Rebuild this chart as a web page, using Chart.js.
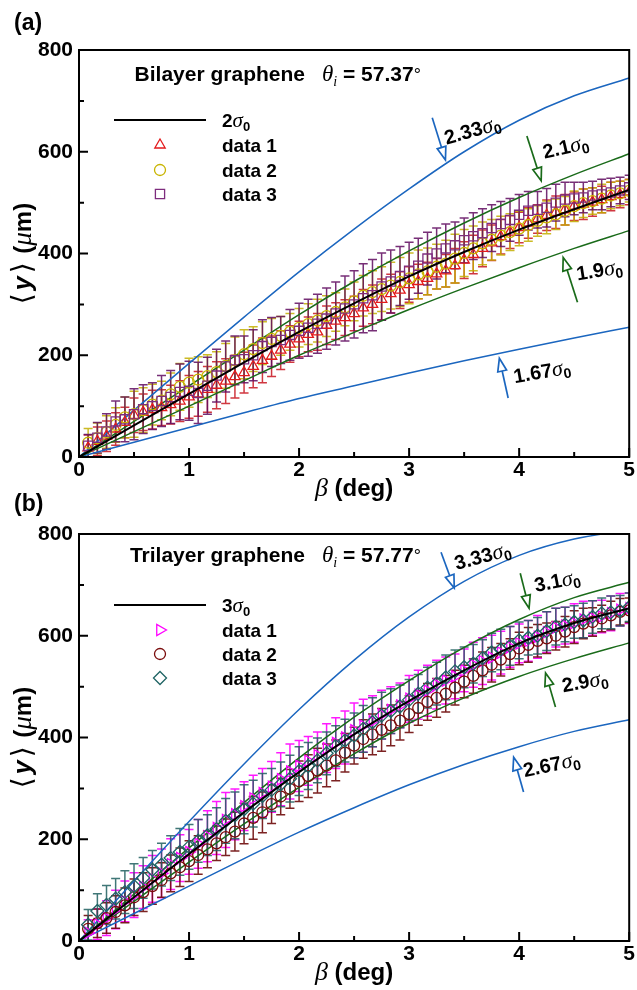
<!DOCTYPE html>
<html>
<head>
<meta charset="utf-8">
<script src="https://cdn.jsdelivr.net/npm/chart.js@4.4.1/dist/chart.umd.min.js"></script>
<style>
  html, body { margin: 0; padding: 0; background: #fff; }
  #wrap { position: relative; width: 637px; height: 990px; overflow: hidden; }
  canvas { position: absolute; left: 0; }
  #ca { top: 0; }
  #cb { top: 490px; }
</style>
</head>
<body>
<div id="wrap">
  <canvas id="ca" width="637" height="510"></canvas>
  <canvas id="cb" width="637" height="500"></canvas>
</div>
<script>
'use strict';

/* ---------- data ---------- */

// measured beam angles (deg), shared by every data series
const beta = [0.083, 0.167, 0.25, 0.333, 0.417, 0.5, 0.583, 0.667, 0.75, 0.833, 0.917, 1.0,
  1.083, 1.167, 1.25, 1.333, 1.417, 1.5, 1.583, 1.667, 1.75, 1.833, 1.917, 2.0,
  2.083, 2.167, 2.25, 2.333, 2.417, 2.5, 2.583, 2.667, 2.75, 2.833, 2.917, 3.0,
  3.083, 3.167, 3.25, 3.333, 3.417, 3.5, 3.583, 3.667, 3.75, 3.833, 3.917, 4.0,
  4.083, 4.167, 4.25, 4.333, 4.417, 4.5, 4.583, 4.667, 4.75, 4.833, 4.917, 5.0];

// theory curves sampled every 0.5 deg
const curveBeta = [0, 0.5, 1, 1.5, 2, 2.5, 3, 3.5, 4, 4.5, 5];

// (a) bilayer graphene
const a_2s0   = [0, 62, 124, 186, 246, 302, 355, 403, 447, 487, 525];
const a_233s0 = [0, 92, 184, 275, 364, 448, 527, 600, 662, 710, 745];
const a_21s0  = [0, 70, 140, 210, 280, 345, 405, 460, 510, 555, 596];
const a_19s0  = [0, 50, 100, 150, 200, 245, 290, 332, 372, 410, 445];
const a_167s0 = [0, 29, 58, 87, 115, 140, 165, 189, 212, 234, 255];

const a_data1 = [18, 31, 41, 55, 68, 82, 88, 93, 97, 103, 110, 118,
  124, 133, 141, 149, 158, 166, 178, 190, 198, 210, 222, 232,
  241, 246, 259, 267, 274, 282, 293, 300, 310, 321, 328, 339,
  345, 351, 360, 366, 376, 387, 398, 410, 421, 433, 442, 451,
  460, 468, 475, 481, 486, 493, 497, 501, 506, 512, 516, 521];
const a_err1 = [25, 28, 30, 32, 30, 34, 36, 38, 35, 38, 40, 42,
  44, 45, 46, 44, 42, 40, 42, 44, 40, 38, 36, 35,
  34, 36, 38, 36, 35, 34, 36, 38, 40, 38, 36, 35,
  34, 32, 30, 32, 34, 36, 38, 36, 35, 34, 32, 30,
  30, 28, 30, 32, 30, 28, 30, 28, 26, 28, 26, 25];
const a_data2 = [28, 37, 49, 63, 78, 84, 92, 103, 111, 123, 138, 146,
  152, 159, 167, 179, 190, 202, 212, 224, 232, 238, 246, 254,
  261, 268, 277, 285, 294, 306, 317, 324, 330, 337, 344, 351,
  359, 365, 374, 380, 390, 401, 410, 420, 427, 435, 442, 449,
  456, 464, 471, 477, 484, 493, 499, 503, 508, 514, 518, 523];
const a_err2 = [28, 30, 32, 34, 40, 45, 44, 40, 38, 42, 46, 48,
  45, 42, 40, 44, 46, 48, 44, 42, 40, 38, 36, 38,
  40, 42, 40, 38, 36, 38, 40, 42, 44, 46, 48, 50,
  48, 46, 44, 46, 48, 46, 44, 42, 40, 38, 36, 34,
  32, 30, 32, 30, 28, 30, 28, 26, 28, 26, 24, 22];
const a_data3 = [22, 38, 50, 70, 74, 84, 94, 100, 110, 118, 128, 130,
  126, 140, 160, 178, 190, 192, 200, 218, 226, 230, 240, 248,
  254, 262, 272, 282, 292, 300, 312, 318, 335, 345, 356, 366,
  376, 390, 400, 410, 416, 426, 434, 440, 450, 458, 466, 476,
  484, 486, 490, 500, 506, 508, 510, 514, 516, 520, 524, 530];
const a_err3 = [22, 30, 35, 40, 44, 50, 48, 46, 50, 52, 55, 58,
  60, 56, 52, 50, 48, 46, 50, 52, 48, 46, 50, 54,
  56, 58, 60, 62, 64, 66, 68, 70, 66, 62, 58, 56,
  54, 52, 50, 48, 46, 44, 46, 48, 46, 44, 42, 40,
  38, 36, 38, 36, 34, 32, 30, 28, 30, 28, 26, 24];

// (b) trilayer graphene
const b_3s0   = [0, 86, 171, 253, 332, 406, 472, 532, 585, 625, 654];
const b_333s0 = [0, 118, 235, 348, 455, 552, 637, 707, 758, 790, 808];
const b_31s0  = [0, 92, 183, 272, 360, 440, 512, 577, 632, 675, 705];
const b_29s0  = [0, 78, 155, 230, 302, 368, 428, 478, 520, 555, 586];
const b_267s0 = [0, 54, 108, 162, 214, 262, 307, 347, 382, 412, 435];

const b_data1 = [16, 33, 45, 62, 78, 90, 106, 122, 133, 151, 163, 175,
  191, 206, 222, 238, 249, 265, 280, 291, 303, 318, 333, 344,
  354, 365, 379, 389, 400, 414, 423, 432, 445, 454, 463, 476,
  484, 492, 504, 512, 520, 532, 543, 550, 557, 567, 578, 585,
  590, 598, 607, 616, 620, 625, 632, 635, 638, 644, 651, 654];
const b_err1 = [26, 30, 34, 38, 40, 44, 42, 46, 48, 50, 46, 44,
  48, 50, 52, 54, 50, 48, 46, 48, 50, 52, 54, 50,
  48, 46, 48, 50, 52, 54, 52, 50, 48, 46, 44, 46,
  48, 50, 48, 46, 44, 42, 44, 46, 44, 42, 40, 38,
  40, 42, 40, 38, 36, 38, 36, 34, 32, 34, 32, 30];
const b_data2 = [24, 35, 45, 57, 70, 86, 96, 108, 120, 133, 145, 157,
  169, 180, 192, 204, 215, 231, 242, 253, 269, 284, 299, 314,
  324, 335, 345, 355, 370, 384, 397, 406, 415, 424, 433, 446,
  458, 470, 478, 486, 498, 510, 521, 532, 543, 553, 564, 575,
  582, 590, 595, 600, 608, 617, 624, 627, 634, 640, 647, 650];
const b_err2 = [26, 28, 30, 32, 34, 36, 38, 36, 34, 36, 38, 40,
  38, 36, 34, 36, 38, 40, 42, 40, 38, 36, 38, 40,
  42, 44, 42, 40, 38, 36, 38, 40, 42, 40, 38, 36,
  34, 36, 38, 36, 34, 32, 34, 36, 34, 32, 30, 32,
  34, 32, 30, 28, 30, 32, 30, 28, 26, 28, 26, 24];
const b_data3 = [32, 59, 71, 83, 96, 108, 124, 140, 150, 163, 175, 185,
  197, 208, 220, 236, 247, 259, 270, 285, 297, 308, 319, 334,
  344, 355, 369, 383, 394, 404, 417, 430, 443, 452, 461, 474,
  486, 498, 506, 518, 530, 538, 545, 556, 567, 573, 580, 591,
  596, 600, 609, 618, 622, 627, 630, 637, 644, 646, 649, 656];
const b_err3 = [30, 34, 38, 40, 42, 44, 40, 38, 42, 44, 46, 44,
  42, 40, 42, 44, 46, 48, 46, 44, 42, 44, 46, 48,
  46, 44, 42, 40, 42, 44, 46, 48, 46, 44, 42, 40,
  38, 40, 42, 44, 42, 40, 38, 36, 38, 40, 38, 36,
  34, 36, 38, 36, 34, 32, 34, 32, 30, 32, 30, 28];

// axis ticks
const xMajor = [0, 1, 2, 3, 4, 5];
const xMinor = [0.5, 1.5, 2.5, 3.5, 4.5];
const yMajor = [0, 200, 400, 600, 800];
const yMinor = [100, 300, 500, 700];

/* ---------- styling ---------- */

const BLUE = '#1b66bf';
const GREEN = '#1a6b1a';
const SANS = '"Liberation Sans", Arial, Helvetica, "DejaVu Sans", sans-serif';
const SERIF = '"Liberation Serif", "Times New Roman", "DejaVu Serif", serif';
const BRACKET = '"DejaVu Sans", sans-serif';

const pts = (xs, ys) => xs.map((x, i) => ({ x, y: ys[i] }));

function curve(label, ys, color, width) {
  return {
    label, data: pts(curveBeta, ys), showLine: true, borderColor: color, borderWidth: width,
    pointRadius: 0, cubicInterpolationMode: 'monotone', fill: false
  };
}

function series(label, ys, errs, st) {
  return {
    label, data: pts(beta, ys), errors: errs, errColor: st.err, showLine: false,
    pointStyle: st.shape, pointRotation: st.rot || 0, pointRadius: st.r,
    pointBorderColor: st.color, pointBackgroundColor: 'rgba(0,0,0,0)', pointBorderWidth: 1.3
  };
}

// mixed-font text: parts = [text, font, dy, gapAfter]
function rich(ctx, parts, x, y, rot, color, align) {
  ctx.save();
  ctx.translate(x, y);
  if (rot) ctx.rotate(rot * Math.PI / 180);
  ctx.fillStyle = color || '#000';
  ctx.textBaseline = 'alphabetic';
  ctx.textAlign = 'left';
  let w = 0;
  for (const [t, f, , g] of parts) { ctx.font = f; w += ctx.measureText(t).width + (g || 0); }
  let cx = align === 'center' ? -w / 2 : align === 'right' ? -w : 0;
  for (const [t, f, dy, g] of parts) {
    ctx.font = f;
    ctx.fillText(t, cx, dy || 0);
    cx += ctx.measureText(t).width + (g || 0);
  }
  ctx.restore();
}

const sigma = (num, size) => [
  [num, `bold ${size}px ${SANS}`],
  ['\u03c3', `italic ${size + 2}px ${SERIF}`],
  ['0', `bold ${Math.round(size * 0.68)}px ${SANS}`, 4]
];

function arrowNote(ctx, xs, ys, n) {
  const x0 = xs.getPixelForValue(n.tail[0]), y0 = ys.getPixelForValue(n.tail[1]);
  const x1 = xs.getPixelForValue(n.tip[0]), y1 = ys.getPixelForValue(n.tip[1]);
  const L = Math.hypot(x1 - x0, y1 - y0), ux = (x1 - x0) / L, uy = (y1 - y0) / L;
  const bx = x1 - ux * 13, by = y1 - uy * 13;
  ctx.strokeStyle = n.color;
  ctx.lineWidth = 1.7;
  ctx.beginPath(); ctx.moveTo(x0, y0); ctx.lineTo(bx, by); ctx.stroke();
  ctx.beginPath();
  ctx.moveTo(x1, y1);
  ctx.lineTo(bx - uy * 4.5, by + ux * 4.5);
  ctx.lineTo(bx + uy * 4.5, by - ux * 4.5);
  ctx.closePath();
  ctx.fillStyle = '#fff'; ctx.fill(); ctx.stroke();
  rich(ctx, sigma(n.text, 20), xs.getPixelForValue(n.at[0]), ys.getPixelForValue(n.at[1]), n.rot);
}

function legendMark(ctx, st, x, y) {
  ctx.save();
  ctx.strokeStyle = st.color;
  ctx.fillStyle = 'rgba(0,0,0,0)';
  ctx.lineWidth = 1.3;
  Chart.helpers.drawPoint(ctx, { pointStyle: st.shape, rotation: st.rot || 0, radius: st.r, borderWidth: 1.3 }, x, y);
  ctx.restore();
}

/* ---------- plugins ---------- */

const errorBars = {
  id: 'errorBars',
  beforeDatasetsDraw(chart) {
    const { ctx, chartArea: a, scales: { x, y } } = chart;
    ctx.save();
    ctx.beginPath(); ctx.rect(a.left, a.top, a.right - a.left, a.bottom - a.top); ctx.clip();
    chart.data.datasets.slice().reverse().forEach(ds => {
      if (!ds.errors) return;
      ctx.strokeStyle = ds.errColor;
      ctx.lineWidth = 1.5;
      ds.data.forEach((p, j) => {
        const e = ds.errors[j];
        const px = x.getPixelForValue(p.x);
        const top = y.getPixelForValue(p.y + e), bot = y.getPixelForValue(p.y - e);
        ctx.beginPath();
        ctx.moveTo(px, top); ctx.lineTo(px, bot);
        ctx.moveTo(px - 4.5, top); ctx.lineTo(px + 4.5, top);
        ctx.moveTo(px - 4.5, bot); ctx.lineTo(px + 4.5, bot);
        ctx.stroke();
      });
    });
    ctx.restore();
  }
};

function makeDecor(p) {
  return {
    id: 'decor',
    afterDraw(chart) {
      const { ctx, chartArea: a, scales: { x, y } } = chart;
      ctx.save();
      // frame and inward ticks
      ctx.strokeStyle = '#000';
      ctx.lineWidth = 2;
      ctx.strokeRect(a.left, a.top, a.right - a.left, a.bottom - a.top);
      ctx.beginPath();
      xMajor.forEach(v => { const px = x.getPixelForValue(v); ctx.moveTo(px, a.bottom); ctx.lineTo(px, a.bottom - 9); });
      xMinor.forEach(v => { const px = x.getPixelForValue(v); ctx.moveTo(px, a.bottom); ctx.lineTo(px, a.bottom - 5); });
      yMajor.forEach(v => { const py = y.getPixelForValue(v); ctx.moveTo(a.left, py); ctx.lineTo(a.left + 9, py); });
      yMinor.forEach(v => { const py = y.getPixelForValue(v); ctx.moveTo(a.left, py); ctx.lineTo(a.left + 5, py); });
      ctx.stroke();

      p.notes.forEach(n => arrowNote(ctx, x, y, n));

      // panel tag, title
      rich(ctx, [[p.tag, `bold 23px ${SANS}`]], 14, p.tagY);
      rich(ctx, [[p.title, `bold 21px ${SANS}`]], 305, p.titleY, 0, '#000', 'right');
      rich(ctx, [
        ['\u03b8', `italic 23px ${SERIF}`],
        ['i', `italic 14px ${SERIF}`, 5],
        [p.theta, `bold 21px ${SANS}`],
        ['\u00b0', `18px ${SANS}`]
      ], 322, p.titleY);

      // legend
      const ly = p.legendY;
      ctx.strokeStyle = '#000'; ctx.lineWidth = 2;
      ctx.beginPath(); ctx.moveTo(114, ly[0]); ctx.lineTo(206, ly[0]); ctx.stroke();
      rich(ctx, sigma(p.legendSigma, 19), 222, ly[0] + 7);
      p.styles.forEach((st, i) => {
        legendMark(ctx, st, 160, ly[i + 1]);
        rich(ctx, [[`data ${i + 1}`, `bold 19px ${SANS}`]], 222, ly[i + 1] + 7);
      });

      // axis titles
      const cy = (a.top + a.bottom) / 2;
      rich(ctx, [
        ['\u27e8', `28px ${BRACKET}`, 0, 3],
        ['y', `bold italic 25px ${SANS}`, 0, 3],
        ['\u27e9', `28px ${BRACKET}`, 0, 2],
        [' (', `bold 24px ${SANS}`],
        ['\u03bc', `italic 27px ${SERIF}`],
        ['m)', `bold 24px ${SANS}`]
      ], 31, cy, -90, '#000', 'center');
      rich(ctx, [
        ['\u03b2', `italic 26px ${SERIF}`],
        [' (deg)', `bold 24px ${SANS}`]
      ], (a.left + a.right) / 2, a.bottom + 39, 0, '#000', 'center');
      ctx.restore();
    }
  };
}

/* ---------- panels ---------- */

const stylesA = [
  { shape: 'triangle', color: '#e31a1c', err: 'rgba(200,20,30,0.85)', r: 6 },
  { shape: 'circle', color: '#c8b400', err: 'rgba(195,175,0,0.85)', r: 5.5 },
  { shape: 'rect', color: '#7e2c7e', err: 'rgba(95,10,95,0.85)', r: 6.5 }
];
const stylesB = [
  { shape: 'triangle', rot: 90, color: '#ff00ff', err: 'rgba(255,0,255,0.9)', r: 6.5 },
  { shape: 'circle', color: '#7a0c0c', err: 'rgba(110,10,10,0.9)', r: 5.5 },
  { shape: 'rectRot', color: '#1f6464', err: 'rgba(30,95,95,0.85)', r: 6.5 }
];

// index 0 is drawn on top: black curve, then data 3, data 2, data 1, then the bounds
const panelA = {
  top: 50, xAxisH: 53, tag: '(a)', tagY: 30, title: 'Bilayer graphene', titleY: 81,
  theta: ' = 57.37', legendSigma: '2', legendY: [120, 145, 170, 194], styles: stylesA,
  datasets: [
    curve('2σ0', a_2s0, '#000', 2),
    series('data 3', a_data3, a_err3, stylesA[2]),
    series('data 2', a_data2, a_err2, stylesA[1]),
    series('data 1', a_data1, a_err1, stylesA[0]),
    curve('2.1σ0', a_21s0, GREEN, 1.5),
    curve('1.9σ0', a_19s0, GREEN, 1.5),
    curve('2.33σ0', a_233s0, BLUE, 1.5),
    curve('1.67σ0', a_167s0, BLUE, 1.5)
  ],
  notes: [
    { text: '2.33', color: BLUE, tail: [3.21, 667], tip: [3.33, 584], at: [3.34, 614], rot: -16 },
    { text: '2.1', color: GREEN, tail: [4.07, 631], tip: [4.2, 543], at: [4.23, 586], rot: -13 },
    { text: '1.9', color: GREEN, tail: [4.53, 304], tip: [4.4, 392], at: [4.53, 347], rot: -9 },
    { text: '1.67', color: BLUE, tail: [3.9, 116], tip: [3.82, 194], at: [3.96, 145], rot: -10 }
  ]
};

const panelB = {
  top: 44, xAxisH: 49, tag: '(b)', tagY: 21, title: 'Trilayer graphene', titleY: 72,
  theta: ' = 57.77', legendSigma: '3', legendY: [115, 140, 164, 188], styles: stylesB,
  datasets: [
    curve('3σ0', b_3s0, '#000', 2),
    series('data 3', b_data3, b_err3, stylesB[2]),
    series('data 2', b_data2, b_err2, stylesB[1]),
    series('data 1', b_data1, b_err1, stylesB[0]),
    curve('3.1σ0', b_31s0, GREEN, 1.5),
    curve('2.9σ0', b_29s0, GREEN, 1.5),
    curve('3.33σ0', b_333s0, BLUE, 1.5),
    curve('2.67σ0', b_267s0, BLUE, 1.5)
  ],
  notes: [
    { text: '3.33', color: BLUE, tail: [3.29, 764], tip: [3.41, 694], at: [3.43, 729], rot: -15 },
    { text: '3.1', color: GREEN, tail: [4.01, 723], tip: [4.09, 654], at: [4.15, 686], rot: -11 },
    { text: '2.9', color: GREEN, tail: [4.33, 460], tip: [4.24, 527], at: [4.4, 489], rot: -10 },
    { text: '2.67', color: BLUE, tail: [4.04, 293], tip: [3.95, 361], at: [4.05, 322], rot: -12 }
  ]
};

function buildChart(id, p) {
  const tickFont = { family: SANS, size: 21, weight: 'bold' };
  return new Chart(document.getElementById(id), {
    type: 'scatter',
    data: { datasets: p.datasets },
    options: {
      responsive: false,
      animation: false,
      events: [],
      layout: { padding: { top: p.top, right: 3, left: 0, bottom: 0 } },
      plugins: { legend: { display: false }, tooltip: { enabled: false } },
      scales: {
        x: {
          type: 'linear', min: 0, max: 5,
          grid: { display: false, drawTicks: false }, border: { display: false },
          ticks: { stepSize: 1, color: '#000', font: tickFont, padding: 1, maxRotation: 0, autoSkip: false },
          afterFit: s => { s.height = p.xAxisH; s.paddingLeft = 0; s.paddingRight = 0; }
        },
        y: {
          type: 'linear', min: 0, max: 800,
          grid: { display: false, drawTicks: false }, border: { display: false },
          ticks: { stepSize: 200, color: '#000', font: tickFont, padding: 6 },
          afterFit: s => { s.width = 79; s.paddingTop = 0; s.paddingBottom = 0; }
        }
      }
    },
    plugins: [errorBars, makeDecor(p)]
  });
}

buildChart('ca', panelA);
buildChart('cb', panelB);
</script>
</body>
</html>
